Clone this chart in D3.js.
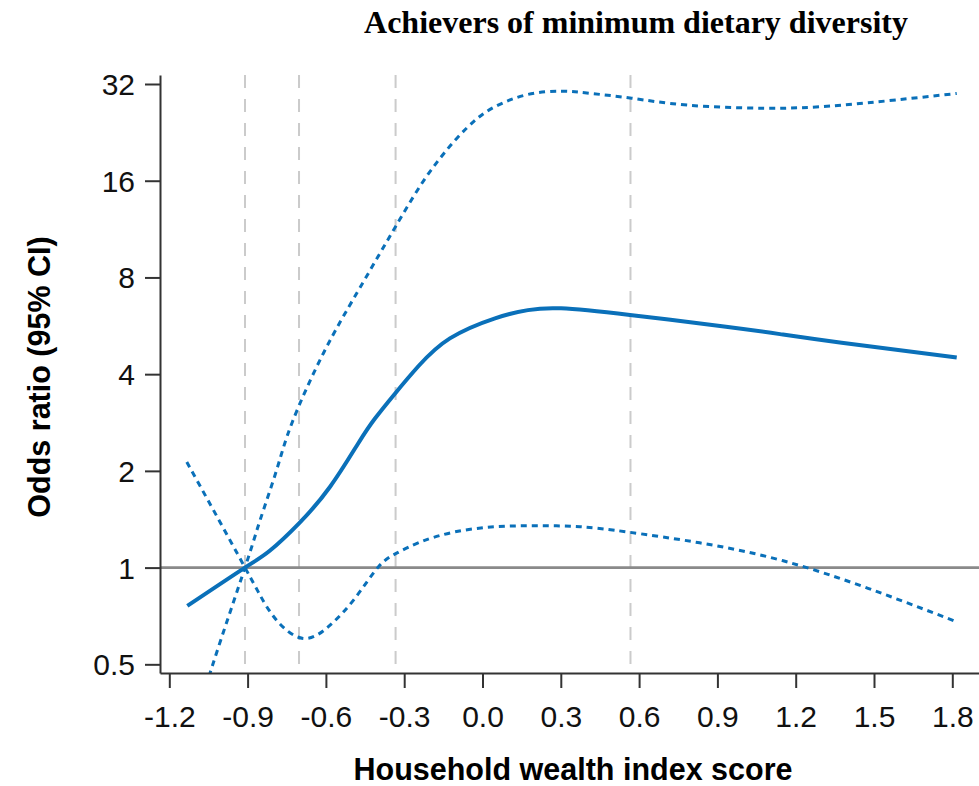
<!DOCTYPE html>
<html>
<head>
<meta charset="utf-8">
<script src="https://cdn.jsdelivr.net/npm/d3@7"></script>
<style>
  html, body { margin: 0; padding: 0; background: #fff; }
  svg { display: block; }
</style>
</head>
<body>
<svg id="chart" width="979" height="786"></svg>
<script>
// ---------- data ----------
const title = "Achievers of minimum dietary diversity";
const xLabel = "Household wealth index score";
const yLabel = "Odds ratio (95% CI)";
const xTicks = [-1.2, -0.9, -0.6, -0.3, 0.0, 0.3, 0.6, 0.9, 1.2, 1.5, 1.8];
const yTicks = [0.5, 1, 2, 4, 8, 16, 32];
const knots = [-0.91, -0.703, -0.333, 0.567];
const refValue = 1;

// Odds ratio estimate
const orX = [-1.131, -0.91, -0.814, -0.703, -0.584, -0.477, -0.412, -0.334, -0.245, -0.125, 0.048, 0.174, 0.301, 0.565, 0.933, 1.14, 1.376, 1.817];
const orY = [0.760, 1.0, 1.13, 1.373, 1.785, 2.43, 2.91, 3.49, 4.24, 5.17, 5.97, 6.33, 6.41, 6.11, 5.62, 5.33, 5.01, 4.51];

// Upper 95% CI
const upX = [-1.131, -1.038, -0.91, -0.852, -0.789, -0.730, -0.610, -0.482, -0.393, -0.331, -0.245, -0.172, -0.098, -0.025, 0.048, 0.167, 0.301, 0.418, 0.571, 0.787, 1.082, 1.376, 1.817];
const upY = [0.27, 0.486, 1.0, 1.406, 2.01, 2.82, 4.64, 7.14, 9.51, 11.59, 15.14, 18.38, 21.7, 24.8, 27.2, 29.6, 30.4, 29.9, 28.9, 27.5, 26.9, 27.5, 29.9];

// Lower 95% CI
const loX = [-1.133, -1.025, -0.91, -0.852, -0.789, -0.687, -0.584, -0.488, -0.400, -0.331, -0.239, -0.109, 0.048, 0.209, 0.374, 0.558, 0.843, 1.152, 1.477, 1.817];
const loY = [2.13, 1.48, 1.0, 0.82, 0.686, 0.602, 0.662, 0.804, 1.003, 1.107, 1.20, 1.29, 1.34, 1.35, 1.34, 1.29, 1.19, 1.05, 0.862, 0.678];

// ---------- layout ----------
const svg = d3.select("#chart");
const plotLeft = 160, plotRight = 979, plotTop = 75, plotBottom = 673;
const pxPerUnit = 261; // pixels per 1.0 on x
const x0px = 169.3;   // position of -1.2
const x = d3.scaleLinear()
  .domain([-1.2 - (x0px - plotLeft) / pxPerUnit, -1.2 + (plotRight - x0px) / pxPerUnit])
  .range([plotLeft, plotRight]);
const pxPerDoubling = 96.72;
const y32 = 84.0;
const y = d3.scaleLog().base(2)
  .domain([Math.pow(2, -1 - (plotBottom - (y32 + 6 * pxPerDoubling)) / pxPerDoubling),
           Math.pow(2, 5 + (y32 - plotTop) / pxPerDoubling)])
  .range([plotBottom, plotTop]);

const blue = "#0a70b9";

svg.append("defs").append("clipPath").attr("id", "plotclip")
  .append("rect").attr("x", plotLeft).attr("y", plotTop)
  .attr("width", plotRight - plotLeft).attr("height", plotBottom - plotTop);

// knot lines
svg.append("g").selectAll("line").data(knots).join("line")
  .attr("x1", d => x(d)).attr("x2", d => x(d))
  .attr("y1", plotTop).attr("y2", plotBottom)
  .attr("stroke", "#cbcbcb").attr("stroke-width", 2)
  .attr("stroke-dasharray", "13,11");

// reference line
svg.append("line")
  .attr("x1", plotLeft).attr("x2", plotRight)
  .attr("y1", y(refValue)).attr("y2", y(refValue))
  .attr("stroke", "#8a8a8a").attr("stroke-width", 2.6);

const line = d3.line().x(d => x(d[0])).y(d => y(d[1])).curve(d3.curveNatural);
const g = svg.append("g").attr("clip-path", "url(#plotclip)");

g.append("path").datum(d3.zip(upX, upY)).attr("d", line)
  .attr("fill", "none").attr("stroke", blue).attr("stroke-width", 3)
  .attr("stroke-dasharray", "6,5");
g.append("path").datum(d3.zip(loX, loY)).attr("d", line)
  .attr("fill", "none").attr("stroke", blue).attr("stroke-width", 3)
  .attr("stroke-dasharray", "6,5");
g.append("path").datum(d3.zip(orX, orY)).attr("d", line)
  .attr("fill", "none").attr("stroke", blue).attr("stroke-width", 4)
  .attr("stroke-linecap", "butt");

// axes
const xAxis = d3.axisBottom(x).tickValues(xTicks).tickSize(15).tickSizeOuter(0)
  .tickFormat(d3.format(".1f"));
const gx = svg.append("g").attr("transform", `translate(0,${plotBottom})`).call(xAxis);
gx.select(".domain").attr("stroke", "#333").attr("stroke-width", 2);
gx.selectAll(".tick line").attr("stroke", "#333").attr("stroke-width", 2);
gx.selectAll(".tick text")
  .attr("y", 54).attr("dy", 0)
  .attr("font-family", "Liberation Sans, Arial, sans-serif")
  .attr("font-size", 30).attr("fill", "#111")
  .text(d => d3.format(".1f")(d).replace("−", "-"));

const yAxis = d3.axisLeft(y).tickValues(yTicks).tickSize(15).tickSizeOuter(0)
  .tickFormat(d => String(d));
const gy = svg.append("g").attr("transform", `translate(${plotLeft},0)`).call(yAxis);
gy.select(".domain").attr("stroke", "#333").attr("stroke-width", 2);
gy.selectAll(".tick line").attr("stroke", "#333").attr("stroke-width", 2);
gy.selectAll(".tick text")
  .attr("x", -25).attr("dy", "0.35em")
  .attr("font-family", "Liberation Sans, Arial, sans-serif")
  .attr("font-size", 30).attr("fill", "#111");

// title
svg.append("text")
  .attr("x", 636).attr("y", 33)
  .attr("text-anchor", "middle")
  .attr("font-family", "Liberation Serif, Times New Roman, serif")
  .attr("font-weight", "bold").attr("font-size", 32)
  .attr("fill", "#000")
  .text(title);

// axis labels
svg.append("text")
  .attr("x", 573).attr("y", 780)
  .attr("text-anchor", "middle")
  .attr("font-family", "Liberation Sans, Arial, sans-serif")
  .attr("font-weight", "bold").attr("font-size", 30.5)
  .attr("fill", "#000")
  .text(xLabel);

svg.append("text")
  .attr("transform", "translate(50,377) rotate(-90)")
  .attr("text-anchor", "middle")
  .attr("font-family", "Liberation Sans, Arial, sans-serif")
  .attr("font-weight", "bold").attr("font-size", 30.5)
  .attr("fill", "#000")
  .text(yLabel);
</script>
</body>
</html>
